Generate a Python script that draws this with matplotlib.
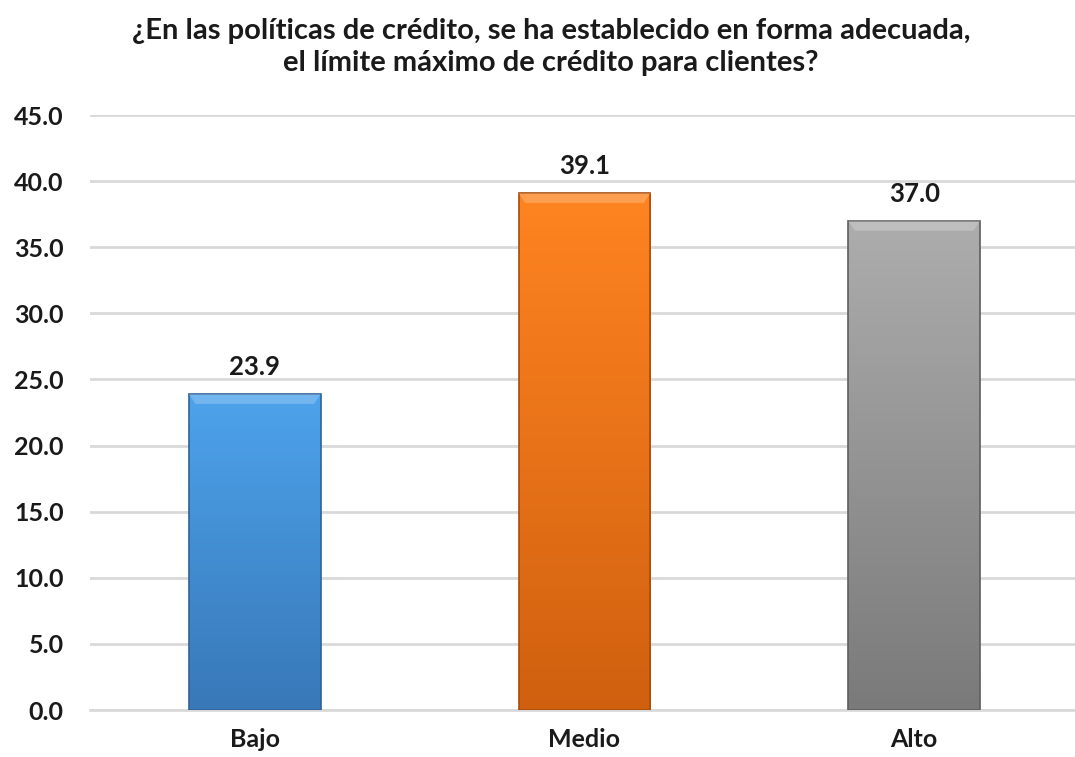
import matplotlib
matplotlib.use("Agg")
import matplotlib.pyplot as plt
import numpy as np
from matplotlib.colors import LinearSegmentedColormap

plt.rcParams['font.family'] = ['Lato', 'DejaVu Sans']

categories = ['Bajo', 'Medio', 'Alto']
values = [23.9, 39.1, 37.0]
yticks = [0, 5, 10, 15, 20, 25, 30, 35, 40, 45]
title = '¿En las políticas de crédito, se ha establecido en forma adecuada,\nel límite máximo de crédito para clientes?'

# (top colour, bottom colour) for each bar's gradient
grad_colors = [('#4DA3EC', '#3878B8'), ('#FF8421', '#D0600F'), ('#ADADAD', '#7A7A7A')]
edge_colors = ['#2E6399', '#A84C0A', '#5E5E5E']

fig = plt.figure(figsize=(10.75, 7.57), dpi=100)
ax = fig.add_axes([90 / 1075, 1 - 710 / 757, 1 - 90 / 1075, (710 - 115) / 757])

x = np.arange(len(categories))
width = 0.4
bars = ax.bar(x, values, width=width, color='none', edgecolor='none', zorder=3)

for bar, (top, bottom), ec in zip(bars, grad_colors, edge_colors):
    x0, w, h = bar.get_x(), bar.get_width(), bar.get_height()
    cmap = LinearSegmentedColormap.from_list('g', [bottom, top])
    grad = np.linspace(0, 1, 256).reshape(-1, 1)
    im = ax.imshow(grad, cmap=cmap, aspect='auto', origin='lower',
                   extent=[x0, x0 + w, 0, h], zorder=3)
    im.set_clip_path(bar)
    # thin darker outline and a light bevel at the top
    ax.add_patch(plt.Rectangle((x0, 0), w, h, fill=False, edgecolor=ec,
                               linewidth=1.2, zorder=4))
    ax.add_patch(plt.Polygon([(x0, h), (x0 + w, h), (x0 + w * 0.95, h - 0.75),
                              (x0 + w * 0.05, h - 0.75)], closed=True,
                             facecolor='white', alpha=0.22, edgecolor='none', zorder=4))
    ax.text(x0 + w / 2, h + 1.1, f'{h:.1f}', ha='center', va='bottom',
            fontsize=18.5, fontweight='bold', color='#1a1a1a')

ax.set_xlim(-0.5, 2.5 - 4 / 330)
ax.set_ylim(0, 45)
ax.set_yticks(yticks)
ax.set_yticklabels([f'{v:.1f}' for v in yticks])
ax.set_xticks(x)
ax.set_xticklabels(categories)
ax.tick_params(axis='both', length=0, labelsize=18, colors='#1a1a1a')
ax.tick_params(axis='y', pad=19)
ax.tick_params(axis='x', pad=13)
for lbl in ax.get_xticklabels() + ax.get_yticklabels():
    lbl.set_fontweight('bold')

ax.grid(axis='y', color='#D9D9D9', linewidth=2, zorder=0)
ax.set_axisbelow(True)
for s in ['top', 'right', 'left']:
    ax.spines[s].set_visible(False)
ax.spines['bottom'].set_color('#D9D9D9')
ax.spines['bottom'].set_linewidth(2)

fig.text(551 / 1075, 1 - 47 / 757, title, ha='center', va='center',
         fontsize=21, fontweight='bold', color='#1a1a1a', linespacing=1.25)

fig.savefig('out.png', dpi=100)
